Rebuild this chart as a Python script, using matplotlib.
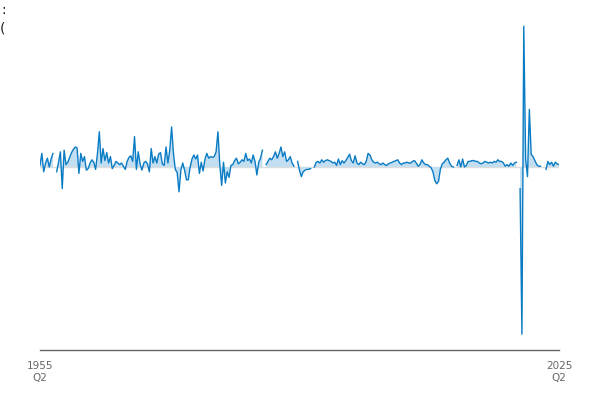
import numpy as np
import matplotlib
matplotlib.use("Agg")
import matplotlib.pyplot as plt

nan = np.nan
# Quarterly growth (%) from 1955 Q2 to 2025 Q2
growth = [
    0.25, 1.7, -0.6, 0.5, 1.1, 0.0, 1.0, 1.7, nan, -0.6,
    0.6, 1.9, -2.7, 2.1, 0.3, 0.6, 1.2, 1.8, 2.2, 2.5,
    2.4, -0.8, 1.7, 0.7, 1.3, -0.4, -0.2, 0.5, 0.9, 0.6,
    -0.3, 1.7, 4.4, 0.5, 2.3, 0.8, 1.8, 0.5, 1.3, -0.2,
    0.2, 0.7, 0.5, 0.3, 0.5, 0.1, -0.3, 0.7,
    1.2, 1.4, 0.7, 3.8, -0.3, 1.9, 0.4, -0.4, 0.5, 0.7,
    0.4, -0.6, 2.3, 0.5, 1.3, 0.5, 1.6, 1.8, 0.4, 0.2,
    2.5, 0.5, 2.1, 5.0, 1.7, -0.3, -0.7, -3.1, -0.4, 0.5,
    -0.4, -1.6, -1.6, 0.0, 1.0, 1.5, 1.0, 1.5, -0.8, 0.6,
    -0.5, 1.0, 1.7, 1.1, 1.3, 1.2, 1.3, 1.9, 4.4,
    0.3, -2.3, 0.6, -2.0, -0.6, -1.3, 0.2, 0.3, 0.8, 1.1,
    0.4, 0.6, 0.9, 0.7, 1.7, 0.8, 1.0, 0.5, 1.5, 0.7,
    -1.0, 0.6, 1.1, 2.1, nan, 0.3, 0.7, 1.1, 0.9, 1.3,
    1.9, 1.1, 1.7, 2.5, 1.3, 1.9, 0.7, 0.9, 1.3, 0.5,
    0.1, nan, 0.7, -0.4, -1.2, -0.6, -0.4, -0.3,
    -0.3, -0.2, nan, 0.0, 0.6, 0.7, 0.5, 0.9, 0.6, 0.8,
    0.9, 0.8, 0.7, 0.5, 0.6, 0.2, 1.0, 0.3, 0.8, 0.5,
    0.8, 1.2, 1.6, 0.8, 0.5, 1.4, 0.5, 0.3, 0.6, 0.4,
    0.3, 0.7, 1.7, 1.5, 0.9, 0.6, 0.5, 0.6, 0.4, 0.3,
    0.5, 0.3, 0.2, 0.4, 0.5, 0.6, 0.7, 0.8, 0.9,
    0.5, 0.3, 0.5, 0.5, 0.6, 0.5, 0.5, 0.7, 0.8, 0.5,
    0.1, 0.3, 0.9, 0.5, 0.3, 0.3, 0.1, -0.1, -0.6, -1.7,
    -2.1, -1.8, -0.3, 0.4, 0.6, 0.9, 1.1, 0.5, 0.1, 0.0,
    nan, 0.2, 0.9, 0.0, 1.0, 0.0, 0.2, 0.7, 0.7, 0.8,
    0.8, 0.7, 0.7, 0.5, 0.4, 0.5, 0.7, 0.6,
    0.5, 0.6, 0.5, 0.7, 0.6, 0.9, 0.7, 0.7, 0.5, 0.1,
    0.3, 0.1, 0.5, 0.2, 0.5, 0.6, nan, -2.7, -20.9, 17.6,
    1.0, -1.2, 7.2, 1.6, 1.3, 0.8, 0.3, 0.1, 0.1, nan,
    nan, -0.3, 0.7, 0.3, 0.6, 0.1, 0.6, 0.4, 0.3,
]
tick_labels = ["1955\nQ2", "2025\nQ2"]

vals = np.array(growth, dtype=float)
x = np.arange(len(vals))

fig = plt.figure(figsize=(6, 4), dpi=100)
ax = fig.add_axes([40 / 600, 50 / 400, 519 / 600, 340 / 400])
ax.set_xlim(0, len(vals) - 1)
ax.set_ylim(-22.875, 19.625)

ax.axhline(0, color="#dddddd", lw=1, zorder=1)
ax.fill_between(x, vals, 0, color="#c3def1", lw=0, zorder=2)
ax.plot(x, vals, color="#0a7cc4", lw=1.0, zorder=3)

for s in ["left", "right", "top"]:
    ax.spines[s].set_visible(False)
ax.spines["bottom"].set_color("#666666")
ax.spines["bottom"].set_linewidth(1)
ax.set_yticks([])
ax.set_xticks([0, len(vals) - 1])
ax.set_xticklabels(tick_labels, fontsize=7.5, color="#666666")
ax.tick_params(axis="x", length=0, pad=8)

fig.text(0.003, 1 - 10 / 400, ":", fontsize=10, color="#222222", va="center", ha="left")
fig.text(0.0, 1 - 28 / 400, "(", fontsize=10, color="#222222", va="center", ha="left")

fig.savefig("out.png", dpi=100)
